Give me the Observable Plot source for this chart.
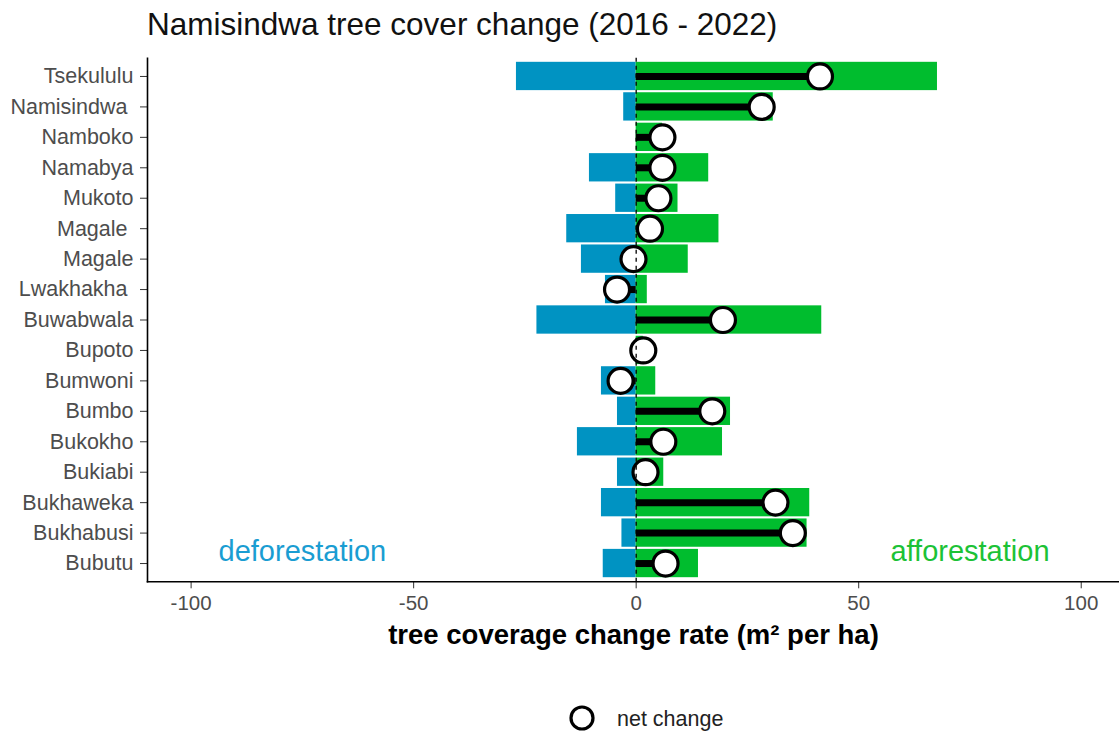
<!DOCTYPE html>
<html><head><meta charset="utf-8">
<script src="https://cdn.jsdelivr.net/npm/d3@7"></script>
<script src="https://cdn.jsdelivr.net/npm/@observablehq/plot@0.6"></script>
<style>
body{margin:0;background:#fff;font-family:"Liberation Sans",Arial,sans-serif;}
#wrap{position:relative;width:1119px;height:733px;overflow:hidden;background:#fff}
#title{position:absolute;left:147px;top:4px;font-size:31.5px;line-height:40px;color:#111;white-space:nowrap}
#chart{position:absolute;left:0;top:47px}
#chart svg text{white-space:pre}
#legend{position:absolute;left:567px;top:703px;height:30px}
#legend svg{position:absolute;left:0;top:0}
#legend span{position:absolute;left:50px;top:4px;font-size:21.5px;line-height:24px;color:#222;white-space:nowrap}
</style></head><body>
<div id="wrap">
  <div id="title">Namisindwa tree cover change (2016 - 2022)</div>
  <div id="chart"></div>
  <div id="legend"><svg width="32" height="32"><circle cx="15" cy="15" r="11" fill="#fff" stroke="#000" stroke-width="3.2"/></svg><span>net change</span></div>
</div>
<script>
// Regions, top to bottom (trailing spaces are part of the original labels)
const regions = ["Tsekululu", "Namisindwa ", "Namboko", "Namabya", "Mukoto", "Magale ", "Magale", "Lwakhakha ", "Buwabwala", "Bupoto", "Bumwoni", "Bumbo", "Bukokho", "Bukiabi", "Bukhaweka", "Bukhabusi", "Bubutu"];
// deforestation (negative), afforestation (positive), net change — m² per ha
const deforestation = [-26.9, -2.8, 0, -10.5, -4.6, -15.6, -12.3, -6.9, -22.3, 0, -7.8, -4.2, -13.2, -4.2, -7.8, -3.2, -7.4];
const afforestation = [67.7, 30.8, 5.9, 16.3, 9.4, 18.6, 11.7, 2.5, 41.7, 1.6, 4.4, 21.2, 19.4, 6.2, 39.0, 38.4, 14.0];
const netChange = [41.3, 28.2, 5.9, 5.9, 5.0, 3.1, -0.6, -4.3, 19.5, 1.6, -3.5, 17.1, 6.1, 2.1, 31.3, 35.2, 6.6];
const xTicks = [-100, -50, 0, 50, 100];

const rows = regions.map((r, i) => ({region: r, def: deforestation[i], aff: afforestation[i], net: netChange[i]}));
const blue = "#0093C2", green = "#00BD2E";

const chart = Plot.plot({
  width: 1119, height: 643,
  marginLeft: 147, marginRight: 0, marginTop: 10.7, marginBottom: 108.7,
  style: {fontFamily: '"Liberation Sans", Arial, sans-serif', background: "#fff", overflow: "visible"},
  x: {domain: [-109.8, 108.6], label: null},
  y: {domain: regions, paddingInner: 0.07, paddingOuter: 0.135, round: false, label: null},
  marks: [
    Plot.barX(rows, {y: "region", x1: 0, x2: "def", fill: blue}),
    Plot.barX(rows, {y: "region", x1: 0, x2: "aff", fill: green}),
    Plot.ruleY(rows, {y: "region", x1: 0, x2: "net", stroke: "#000", strokeWidth: 7}),
    Plot.dot(rows, {y: "region", x: "net", r: 12.5, fill: "#fff", stroke: "#000", strokeWidth: 3.2}),
    Plot.ruleX([0], {stroke: "#000", strokeWidth: 1.3, strokeDasharray: "4,4"}),
    Plot.text(["deforestation"], {x: () => -75, y: () => regions[regions.length - 1], text: d => d, dy: -12, fontSize: 29, fill: "#1A9DD2"}),
    Plot.text(["afforestation"], {x: () => 75, y: () => regions[regions.length - 1], text: d => d, dy: -12, fontSize: 29, fill: "#1CC236"}),
    Plot.axisX({ticks: xTicks, tickFormat: d => String(d), tickSize: 7, tickPadding: 7, fontSize: 20.5, stroke: "#333", fill: "#4d4d4d", label: null}),
    Plot.axisY({tickSize: 7, tickPadding: 7, fontSize: 21.5, stroke: "#333", fill: "#4d4d4d", label: null}),
    Plot.frame({anchor: "left", stroke: "#000", strokeWidth: 1.6}),
    Plot.frame({anchor: "bottom", stroke: "#000", strokeWidth: 1.6}),
    Plot.text(["tree coverage change rate (m² per ha)"], {frameAnchor: "bottom", dy: 62, text: d => d, fontSize: 27.5, fontWeight: "bold", fill: "#000"})
  ]
});
document.getElementById("chart").appendChild(chart);
</script>
</body></html>
